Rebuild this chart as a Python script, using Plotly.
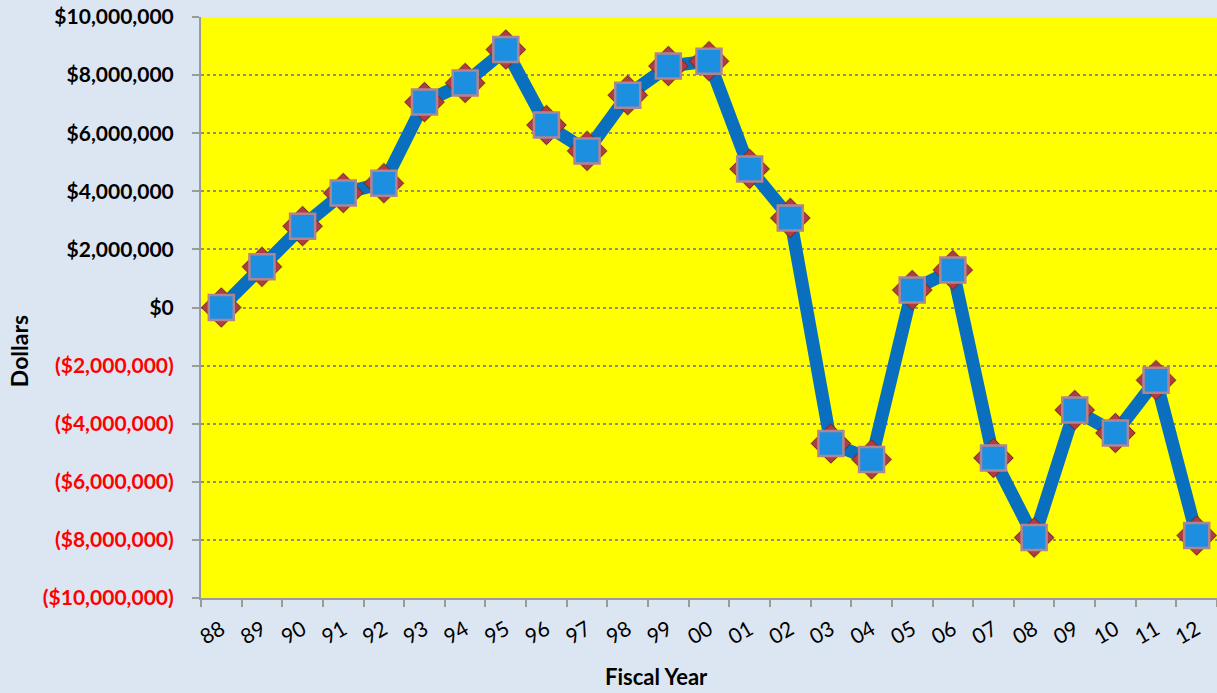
import plotly.graph_objects as go

# Fiscal years and end-of-year balance (dollars)
years = ["88", "89", "90", "91", "92", "93", "94", "95", "96", "97", "98", "99",
         "00", "01", "02", "03", "04", "05", "06", "07", "08", "09", "10", "11", "12"]
balance = [0, 1400000, 2800000, 3940000, 4280000, 7070000, 7730000, 8880000,
           6280000, 5390000, 7310000, 8310000, 8480000, 4770000, 3080000,
           -4680000, -5230000, 600000, 1290000, -5180000, -7920000, -3530000,
           -4320000, -2500000, -7850000]

y_ticks = [-10000000, -8000000, -6000000, -4000000, -2000000, 0,
           2000000, 4000000, 6000000, 8000000, 10000000]


def money(v):
    s = "${:,.0f}".format(abs(v))
    if v < 0:
        return '<span style="color:#ff0000">(' + s + ')</span>'
    return s


y_text = [money(v) for v in y_ticks]

fig = go.Figure()

# thick connecting line
fig.add_trace(go.Scatter(
    x=years, y=balance, mode="lines",
    line=dict(color="#0b6fbf", width=13),
    hoverinfo="skip", showlegend=False,
))
# soft shadow under each marker
fig.add_trace(go.Scatter(
    x=years, y=balance, mode="markers",
    marker=dict(symbol="diamond", size=32, color="rgba(90,60,0,0.35)",
                line=dict(width=0)),
    hoverinfo="skip", showlegend=False,
))
# red diamond behind each point
fig.add_trace(go.Scatter(
    x=years, y=balance, mode="markers",
    marker=dict(symbol="diamond", size=30, color="#b23c44",
                line=dict(color="#7a2a2a", width=1)),
    hoverinfo="skip", showlegend=False,
))
# blue square on top
fig.add_trace(go.Scatter(
    x=years, y=balance, mode="markers",
    marker=dict(symbol="square", size=25, color="#1c8fe0",
                line=dict(color="#b08590", width=2.5)),
    showlegend=False,
))

font_family = "Lato, 'Open Sans', sans-serif"

fig.update_layout(
    width=1217, height=693,
    paper_bgcolor="#dce6f2",
    plot_bgcolor="#ffff00",
    margin=dict(l=201, r=0, t=17, b=95),
    font=dict(family=font_family, color="#000000"),
    xaxis=dict(
        type="category",
        categoryorder="array", categoryarray=years,
        range=[-0.5, 24.5],
        showgrid=False,
        showline=True, linecolor="#9a9a9a", linewidth=2,
        ticks="outside", tickson="boundaries", ticklen=7,
        tickcolor="#9a9a9a", tickwidth=2,
        tickangle=-30,
        ticklabelstandoff=9,
        tickfont=dict(size=21, family=font_family),
        zeroline=False,
    ),
    yaxis=dict(
        range=[-10000000, 10000000],
        tickvals=y_ticks, ticktext=y_text,
        showgrid=True, gridcolor="#8c8c8c", gridwidth=1.5, griddash="dot",
        showline=True, linecolor="#9a9a9a", linewidth=2,
        ticks="outside", ticklen=7, tickcolor="#9a9a9a", tickwidth=2,
        ticklabelstandoff=14,
        tickfont=dict(size=21, family=font_family, weight="bold"),
        zeroline=False,
    ),
    annotations=[
        dict(text="<b>Fiscal Year</b>", xref="paper", yref="paper",
             x=0.448, y=-0.135, xanchor="center", yanchor="middle",
             showarrow=False, font=dict(size=22)),
        dict(text="<b>Dollars</b>", xref="paper", yref="paper",
             x=-0.179, y=0.425, xanchor="center", yanchor="middle",
             textangle=-90, showarrow=False, font=dict(size=23)),
    ],
)

fig.write_html("out.html")
